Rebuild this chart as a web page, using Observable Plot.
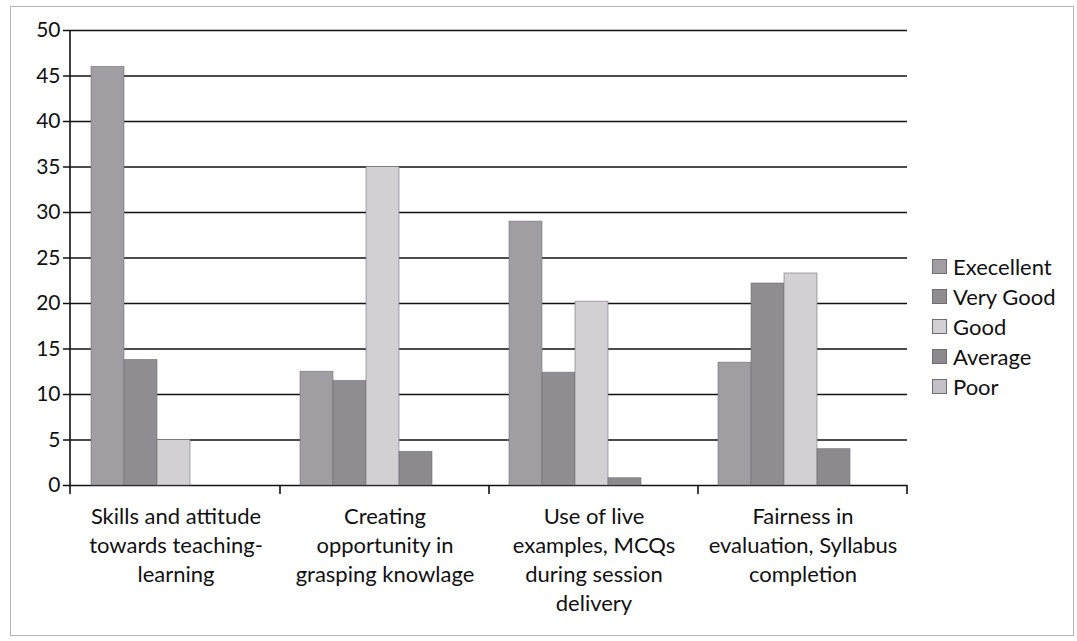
<!DOCTYPE html>
<html>
<head>
<meta charset="utf-8">
<script src="https://cdn.jsdelivr.net/npm/d3@7"></script>
<script src="https://cdn.jsdelivr.net/npm/@observablehq/plot@0.6"></script>
<style>
  body { margin: 0; background: #fff; font-family: Lato, "Open Sans", sans-serif; }
  #wrap { position: relative; width: 1077px; height: 641px; overflow: hidden; }
  #frame { position: absolute; left: 10px; top: 6px; width: 1064px; height: 630px; border: 1px solid #b5b5b5; box-sizing: border-box; }
  #chart { position: absolute; left: 0; top: 0; }
  #legend { position: absolute; left: 932px; top: 252px; font-size: 22px; color: #111; }
  .item { display: flex; align-items: center; height: 29.8px; }
  .sw { width: 15px; height: 15px; margin-right: 6px; box-sizing: border-box; border: 1px solid #6f6d72; }
</style>
</head>
<body>
<div id="wrap">
  <div id="frame"></div>
  <div id="chart"></div>
  <div id="legend"></div>
</div>
<script>
const categories = [
  "Skills and attitude\ntowards teaching-\nlearning",
  "Creating\nopportunity in\ngrasping knowlage",
  "Use of live\nexamples, MCQs\nduring session\ndelivery",
  "Fairness in\nevaluation, Syllabus\ncompletion"
];
const series = ["Execellent", "Very Good", "Good", "Average", "Poor"];
const excellent = [46, 12.5, 29, 13.5];
const veryGood = [13.8, 11.5, 12.4, 22.2];
const good = [5, 35, 20.2, 23.3];
const average = [0, 3.7, 0.8, 4];
const poor = [0, 0, 0, 0];
const yTicks = [0, 5, 10, 15, 20, 25, 30, 35, 40, 45, 50];
const colors = ["#a09da3", "#8f8c92", "#d2d0d3", "#8c8a8f", "#c3c1c5"];

const valuesBySeries = [excellent, veryGood, good, average, poor];
const data = [];
categories.forEach((c, i) => {
  series.forEach((s, j) => data.push({category: c, series: s, value: valuesBySeries[j][i]}));
});

const chart = Plot.plot({
  width: 920,
  height: 641,
  marginLeft: 70,
  marginRight: 12,
  marginTop: 30,
  marginBottom: 156,
  style: {fontFamily: "Lato, 'Open Sans', sans-serif", color: "#111", background: "transparent"},
  fx: {domain: categories, padding: 0, axis: null, label: null},
  x: {domain: series, paddingInner: 0, paddingOuter: 0.58, align: 0.45, axis: null, label: null},
  y: {domain: [0, 50], axis: null, label: null},
  color: {domain: series, range: colors},
  marks: [
    Plot.ruleY(yTicks, {stroke: "#111", strokeWidth: 1.6}),
    Plot.barY(data, {fx: "category", x: "series", y: "value", fill: "series", stroke: "#6f6d72", strokeWidth: 0.8, strokeOpacity: 0.7}),
    Plot.axisY({ticks: yTicks, label: null, tickSize: 8, tickPadding: 3, fontSize: 21, stroke: "#111", strokeWidth: 1.5}),
    Plot.axisFx({anchor: "bottom", label: null, tickSize: 0, tickPadding: 18, fontSize: 22, lineHeight: 1.32, textAnchor: "middle"})
  ]
});
document.getElementById("chart").appendChild(chart);

// axis lines and category boundary ticks, positioned from Plot's scales
const fx = chart.scale("fx");
const y = chart.scale("y");
const svg = d3.select(chart);
const x0 = fx.range[0];
svg.append("line")
  .attr("x1", x0).attr("x2", x0)
  .attr("y1", y.apply(50)).attr("y2", y.apply(0) + 9)
  .attr("stroke", "#111").attr("stroke-width", 1.6);
const bounds = categories.map(c => fx.apply(c)).concat([fx.apply(categories[categories.length - 1]) + fx.step]);
bounds.slice(1).forEach(b => {
  svg.append("line")
    .attr("x1", b).attr("x2", b)
    .attr("y1", y.apply(0)).attr("y2", y.apply(0) + 9)
    .attr("stroke", "#111").attr("stroke-width", 1.6);
});

const legend = document.getElementById("legend");
series.forEach((s, i) => {
  const item = document.createElement("div");
  item.className = "item";
  const sw = document.createElement("span");
  sw.className = "sw";
  sw.style.background = colors[i];
  const t = document.createElement("span");
  t.textContent = s;
  item.appendChild(sw);
  item.appendChild(t);
  legend.appendChild(item);
});
</script>
</body>
</html>
